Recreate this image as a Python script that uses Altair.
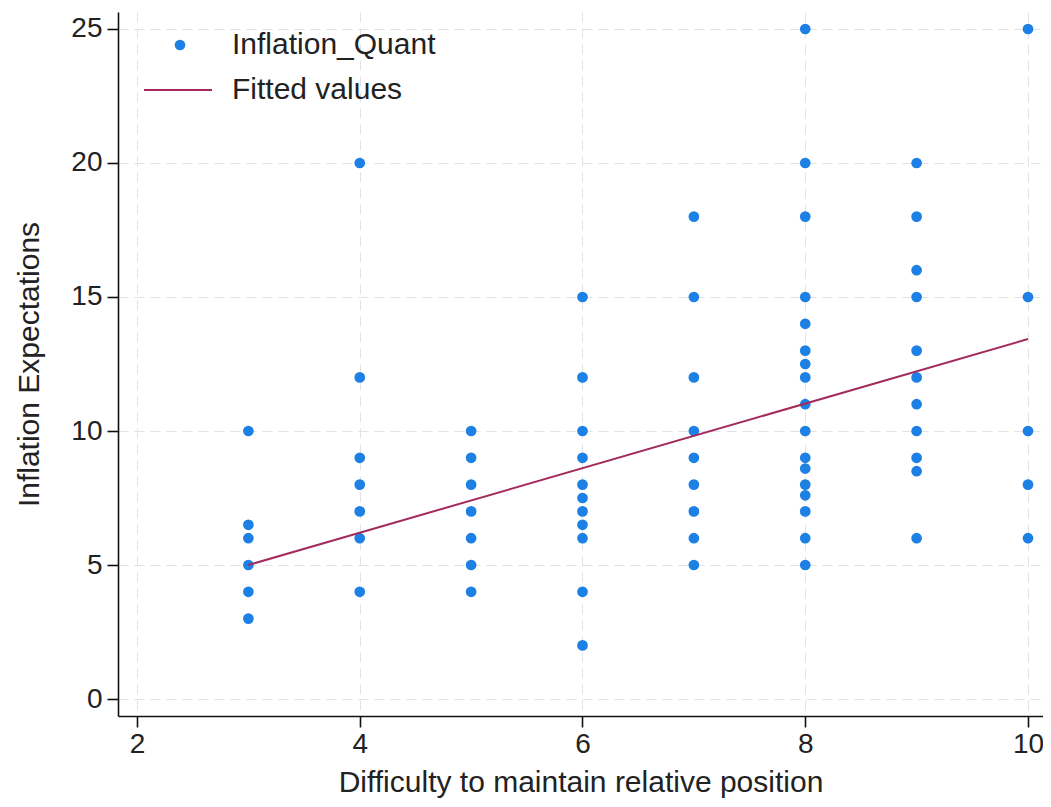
import altair as alt
import pandas as pd

# Scatter data: x = Difficulty to maintain relative position, y = Inflation expectations
x3 = [10, 6.5, 6, 5, 4, 3]
x4 = [20, 12, 9, 8, 7, 6, 4]
x5 = [10, 9, 8, 7, 6, 5, 4]
x6 = [15, 12, 10, 9, 8, 7.5, 7, 6.5, 6, 4, 2]
x7 = [18, 15, 12, 10, 9, 8, 7, 6, 5]
x8 = [25, 20, 18, 15, 14, 13, 12.5, 12, 11, 10, 9, 8.6, 8, 7.6, 7, 6, 5]
x9 = [20, 18, 16, 15, 13, 12, 11, 10, 9, 8.5, 6]
x10 = [25, 15, 10, 8, 6]

# Fitted line endpoints
fit_x = [3, 10]
fit_y = [5.0, 13.43]

x_ticks = [2, 4, 6, 8, 10]
y_ticks = [0, 5, 10, 15, 20, 25]

groups = {3: x3, 4: x4, 5: x5, 6: x6, 7: x7, 8: x8, 9: x9, 10: x10}
rows = []
for xv, ys in groups.items():
    for yv in ys:
        rows.append({"x": xv, "y": yv, "series": "Inflation_Quant"})
pts = pd.DataFrame(rows)
fit = pd.DataFrame({"x": fit_x, "y": fit_y, "series": ["Fitted values"] * len(fit_x)})

FONT = "Liberation Sans"
FS = 28
TFS = 30

xscale = alt.Scale(domain=[1.8294, 10.1347], nice=False, zero=False)
yscale = alt.Scale(domain=[-0.634, 25.634], nice=False, zero=False)

xaxis = alt.Axis(values=x_ticks, title="Difficulty to maintain relative position", format="d")
yaxis = alt.Axis(values=y_ticks, title="Inflation Expectations", format="d")

points = alt.Chart(pts).mark_point(filled=True, size=115, opacity=1).encode(
    x=alt.X("x:Q", scale=xscale, axis=xaxis),
    y=alt.Y("y:Q", scale=yscale, axis=yaxis),
    color=alt.Color(
        "series:N",
        scale=alt.Scale(domain=["Inflation_Quant"], range=["#1c80e4"]),
        title=None,
        legend=alt.Legend(
            orient="none", legendX=47, legendY=18, padding=0,
            symbolType="circle", symbolSize=115, labelOffset=37, labelLimit=500,
            labelFont=FONT, labelFontSize=TFS, labelColor="#222222",
        ),
    ),
)

line = alt.Chart(fit).mark_line(strokeWidth=2).encode(
    x=alt.X("x:Q", scale=xscale),
    y=alt.Y("y:Q", scale=yscale),
    color=alt.Color(
        "series:N",
        scale=alt.Scale(domain=["Fitted values"], range=["#a32a5c"]),
        title=None,
        legend=alt.Legend(
            orient="none", legendX=25, legendY=43, padding=0,
            symbolType="stroke", symbolSize=4624, symbolStrokeWidth=2,
            labelOffset=19, labelLimit=500,
            labelFont=FONT, labelFontSize=TFS, labelColor="#222222",
        ),
    ),
)

chart = alt.layer(points, line).resolve_scale(color="independent").resolve_legend(
    color="independent"
).properties(
    width=925,
    height=704,
    autosize=alt.AutoSizeParams(type="none"),
    padding={"left": 110, "top": 4, "right": 0, "bottom": 83},
).configure_view(
    stroke=None
).configure_axis(
    labelFont=FONT, labelFontSize=FS, labelColor="#222222",
    titleFont=FONT, titleFontSize=TFS, titleColor="#222222", titleFontWeight="normal",
    domainColor="#111111", domainWidth=1.6,
    tickColor="#111111", tickWidth=1.6, tickSize=11,
    gridColor="#e2e2e2", gridDash=[10, 6], gridWidth=1,
).configure_axisX(
    labelPadding=3, titlePadding=9,
).configure_axisY(
    labelPadding=5, titlePadding=26,
)

chart.save("out.html", embed_options={"renderer": "svg", "actions": False})
